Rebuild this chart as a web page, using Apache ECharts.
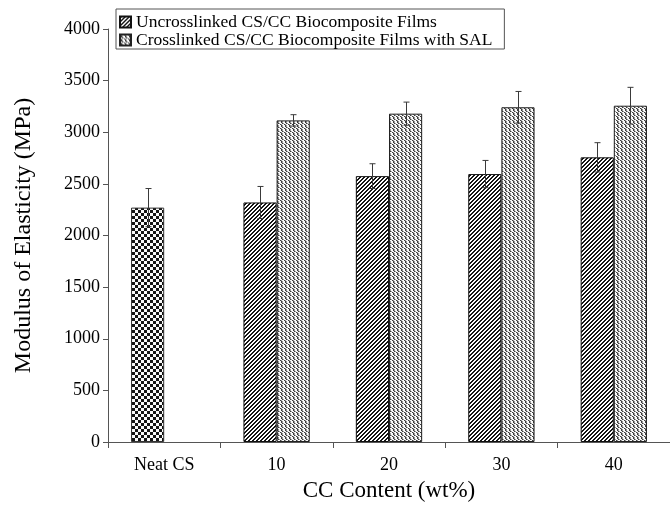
<!DOCTYPE html>
<html>
<head>
<meta charset="utf-8">
<script src="https://cdn.jsdelivr.net/npm/echarts@6/dist/echarts.min.js"></script>
<style>
html,body{margin:0;padding:0;background:#fff;}
#chart{width:670px;height:507px;}
</style>
</head>
<body>
<div id="chart"></div>
<script>
// ---- data ----
const categories = ['Neat CS', '10', '20', '30', '40'];
const uncrossValues = [2270, 2320, 2575, 2595, 2757];
const uncrossErrors = [185, 155, 120, 132, 142];
const crossValues = [null, 3115, 3180, 3242, 3257];
const crossErrors = [null, 55, 112, 153, 178];
const seriesNames = ['Uncrosslinked CS/CC Biocomposite Films', 'Crosslinked CS/CC Biocomposite Films with SAL'];

// ---- fill patterns ----
function makePattern(size, fn) {
  const c = document.createElement('canvas');
  c.width = size; c.height = size;
  const ctx = c.getContext('2d');
  const img = ctx.createImageData(size, size);
  for (let y = 0; y < size; y++) {
    for (let x = 0; x < size; x++) {
      const v = fn(x, y);
      const i = (y * size + x) * 4;
      img.data[i] = v; img.data[i + 1] = v; img.data[i + 2] = v; img.data[i + 3] = 255;
    }
  }
  ctx.putImageData(img, 0, 0);
  return c;
}
const hatchCanvas = makePattern(4, (x, y) => ((x + y) % 4 < 2) ? 20 : 255);
const checkerCanvas = makePattern(6, (x, y) => ((Math.floor(x / 3) + Math.floor(y / 3)) % 2 === 0) ? 20 : 250);
const crossCanvas = makePattern(8, (x, y) => {
  const d = ((x - y + (Math.floor(y / 2) % 2)) % 4 + 4) % 4;
  if (d === 0) return 60;
  if (d === 1) return 150;
  return 250;
});
const hatchFill = { image: hatchCanvas, repeat: 'repeat' };
const checkerFill = { image: checkerCanvas, repeat: 'repeat' };
const crossFill = { image: crossCanvas, repeat: 'repeat' };

const GAP = 0.41;
const FONT = 'Liberation Serif';

function errorSeries(values, errors, slot) {
  const data = [];
  values.forEach((v, i) => { if (v != null) data.push([i, v, errors[i]]); });
  return {
    type: 'custom',
    z: 10,
    silent: true,
    data: data,
    renderItem: function (params, api) {
      const i = api.value(0), v = api.value(1), e = api.value(2);
      const c = api.coord([i, v]);
      const band = api.size([1, 0])[0];
      const bw = band * (1 - GAP) / 2;
      const x = Math.round(c[0] + slot * bw / 2) + 0.5;
      const yt = api.coord([i, v + e])[1];
      const yb = api.coord([i, v - e])[1];
      const st = { stroke: '#3a3a3a', lineWidth: 1 };
      return {
        type: 'group',
        children: [
          { type: 'line', shape: { x1: x, y1: yt, x2: x, y2: yb }, style: st },
          { type: 'line', shape: { x1: x - 3, y1: yt, x2: x + 3, y2: yt }, style: st },
          { type: 'line', shape: { x1: x - 3, y1: yb, x2: x + 3, y2: yb }, style: st }
        ]
      };
    }
  };
}

const chart = echarts.init(document.getElementById('chart'));
chart.setOption({
  animation: false,
  backgroundColor: '#fff',
  textStyle: { fontFamily: FONT },
  grid: { left: 108, right: 0, top: 29, bottom: 64, containLabel: false },
  legend: {
    orient: 'vertical',
    left: 116,
    top: 9,
    padding: [4, 12, 0, 3],
    itemGap: 0,
    itemWidth: 11,
    itemHeight: 11,
    icon: 'rect',
    borderColor: '#555',
    borderWidth: 1,
    backgroundColor: '#fff',
    selectedMode: false,
    textStyle: { fontFamily: FONT, fontSize: 17.5, color: '#000' },
    data: seriesNames
  },
  xAxis: {
    type: 'category',
    data: categories,
    name: 'CC Content (wt%)',
    nameLocation: 'middle',
    nameGap: 37,
    nameTextStyle: { fontFamily: FONT, fontSize: 23, color: '#000' },
    axisLine: { lineStyle: { color: '#555', width: 1 } },
    axisTick: { show: true, length: 6, lineStyle: { color: '#555' } },
    axisLabel: { fontFamily: FONT, fontSize: 18, color: '#000', margin: 14 },
    splitLine: { show: false }
  },
  yAxis: {
    type: 'value',
    min: 0,
    max: 4000,
    interval: 500,
    name: 'Modulus of Elasticity (MPa)',
    nameLocation: 'middle',
    nameGap: 72,
    nameTextStyle: { fontFamily: FONT, fontSize: 24, color: '#000' },
    axisLine: { show: true, lineStyle: { color: '#555', width: 1 } },
    axisTick: { show: true, length: 5, lineStyle: { color: '#555' } },
    axisLabel: { fontFamily: FONT, fontSize: 18, color: '#000', margin: 8, formatter: v => String(v) },
    splitLine: { show: false }
  },
  series: [
    {
      name: seriesNames[0],
      type: 'bar',
      barGap: '0%',
      barCategoryGap: (GAP * 100) + '%',
      itemStyle: { color: hatchFill, borderColor: '#111', borderWidth: 1 },
      data: uncrossValues.map((v, i) => i === 0
        ? { value: v, itemStyle: { color: checkerFill, borderColor: '#333', borderWidth: 1 } }
        : v)
    },
    {
      name: seriesNames[1],
      type: 'bar',
      barGap: '0%',
      barCategoryGap: (GAP * 100) + '%',
      itemStyle: { color: crossFill, borderColor: '#222', borderWidth: 1 },
      data: crossValues.map(v => v == null ? '-' : v)
    },
    errorSeries(uncrossValues, uncrossErrors, -1),
    errorSeries(crossValues, crossErrors, 1)
  ]
});
</script>
</body>
</html>
